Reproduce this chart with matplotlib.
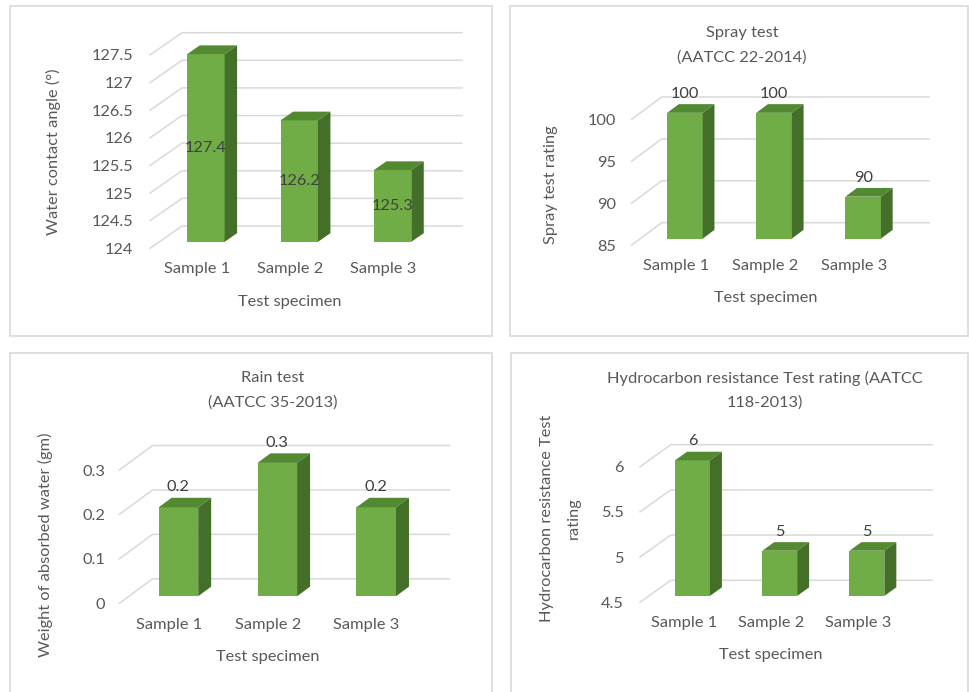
import matplotlib

matplotlib.use("Agg", force=True)
import matplotlib.pyplot as plt
from matplotlib.patches import Polygon, Rectangle

plt.rcParams["font.family"] = ["Lato", "DejaVu Sans"]

W, H = 969, 692

samples = ["Sample 1", "Sample 2", "Sample 3"]
contact_angle = [127.4, 126.2, 125.3]
spray_rating = [100, 100, 90]
rain_weight = [0.2, 0.3, 0.2]
hydrocarbon_rating = [6, 5, 5]

contact_ticks = [124, 124.5, 125, 125.5, 126, 126.5, 127, 127.5]
spray_ticks = [85, 90, 95, 100]
rain_ticks = [0, 0.1, 0.2, 0.3]
hydrocarbon_ticks = [4.5, 5, 5.5, 6]

FRONT = "#70AD47"
TOP = "#538A31"
SIDE = "#446F29"
GRID = "#D9D9D9"
TEXT = "#595959"
VALUE = "#404040"
FS = 11.8

fig = plt.figure(figsize=(W / 100, H / 100), dpi=100)


def fx(x):
    return x / W


def fy(y):
    return 1 - y / H


def lines(text, x, y, step, rotation=0):
    # stack lines by hand so the spacing is fixed in pixels
    parts = text.split("\n")
    n = len(parts)
    for k, part in enumerate(parts):
        off = (k - (n - 1) / 2) * step
        px, py = (x + off, y) if rotation else (x, y + off)
        fig.text(fx(px), fy(py), part, ha="center", va="center",
                 rotation=rotation, fontsize=FS, color=TEXT)


def panel(box, plane, depth, values, ticks, tick_pad, cat_pad, xlabel_xy,
          ylabel, ylabel_xy, title=None, title_xy=None, inside=False):
    # light frame around each chart
    bx0, by0, bx1, by1 = box
    fig.add_artist(Rectangle((fx(bx0), fy(by1)), fx(bx1 - bx0), (by1 - by0) / H,
                             transform=fig.transFigure, fill=False,
                             edgecolor=GRID, lw=1.2))

    x0, x1, ybot, ytop = plane
    ymin, ymax = ticks[0], ticks[-1]
    ax = fig.add_axes([fx(x0), fy(ybot), (x1 - x0) / W, (ybot - ytop) / H])
    ax.set_facecolor("none")
    ax.set_xlim(0, 3)
    ax.set_ylim(ymin, ymax)
    for s in ax.spines.values():
        s.set_visible(False)

    # depth offset in data units
    DX, DY = depth
    dxd = DX / ((x1 - x0) / 3)
    dyd = DY / ((ybot - ytop) / (ymax - ymin))

    for t in ticks:
        ax.plot([0, dxd, 3 + dxd], [t, t + dyd, t + dyd], color=GRID,
                lw=1.1, clip_on=False, zorder=1)

    ax.set_yticks(ticks)
    ax.set_yticklabels([f"{t:g}" for t in ticks])
    ax.set_xticks([0.5, 1.5, 2.5])
    ax.set_xticklabels(samples)
    ax.tick_params(axis="y", length=0, pad=tick_pad, labelsize=FS, labelcolor=TEXT)
    ax.tick_params(axis="x", length=0, pad=cat_pad, labelsize=FS, labelcolor=TEXT)

    f0, f1 = 0.29, 0.68
    width = 0.4
    centers = [i + 0.5 for i in range(len(values))]
    ax.bar([c + f0 * dxd for c in centers], [v - ymin for v in values],
           bottom=ymin + f0 * dyd, width=width, color=FRONT, zorder=3,
           clip_on=False)
    for c, v in zip(centers, values):
        xl = c - width / 2
        xr = c + width / 2
        top = [(xl + f0 * dxd, v + f0 * dyd), (xr + f0 * dxd, v + f0 * dyd),
               (xr + f1 * dxd, v + f1 * dyd), (xl + f1 * dxd, v + f1 * dyd)]
        side = [(xr + f0 * dxd, ymin + f0 * dyd), (xr + f0 * dxd, v + f0 * dyd),
                (xr + f1 * dxd, v + f1 * dyd), (xr + f1 * dxd, ymin + f1 * dyd)]
        ax.add_patch(Polygon(top, closed=True, facecolor=TOP, edgecolor="none",
                             zorder=3, clip_on=False))
        ax.add_patch(Polygon(side, closed=True, facecolor=SIDE, edgecolor="none",
                             zorder=3, clip_on=False))
        if inside:
            ax.text(c + f0 * dxd, (ymin + v) / 2 + f0 * dyd, f"{v:g}", ha="center",
                    va="center", fontsize=FS, color=VALUE, zorder=4)
        else:
            ax.annotate(f"{v:g}", (c + f0 * dxd, v + f1 * dyd), xytext=(0, 7.5),
                        textcoords="offset points", ha="center", va="center",
                        fontsize=FS, color=VALUE, zorder=4, annotation_clip=False)

    lines("Test specimen", xlabel_xy[0], xlabel_xy[1], 0)
    lines(ylabel, ylabel_xy[0], ylabel_xy[1], 27.3, rotation=90)
    if title:
        lines(title, title_xy[0], title_xy[1], 24)
    return ax


panel((10, 6, 491.5, 336), (150, 430, 248.3, 55), (32, 22.3), contact_angle,
      contact_ticks, 12, 10, (289.3, 302.3), "Water contact angle (\u00b0)",
      (53.3, 151.7), inside=True)

panel((509.5, 6, 968, 336), (631.7, 899, 245, 119.3), (30, 22.3), spray_rating,
      spray_ticks, 11.3, 10, (765.7, 297.7), "Spray test rating", (550.7, 185),
      "Spray test\n(AATCC 22-2014)", (742, 45.3))

panel((10, 352.5, 491.5, 720), (119.3, 416, 603.3, 470), (33.3, 24.5), rain_weight,
      rain_ticks, 10.3, 10.5, (267.7, 656.7), "Weight of absorbed water (gm)",
      (45, 545), "Rain test\n(AATCC 35-2013)", (272.7, 390.3))

panel((511, 352.5, 968, 720), (640, 901.6, 602.3, 466.7), (30.7, 22),
      hydrocarbon_rating, hydrocarbon_ticks, 11.5, 10, (770.7, 655),
      "Hydrocarbon resistance Test\nrating", (560.3, 518),
      "Hydrocarbon resistance Test rating (AATCC\n118-2013)", (765, 390.8))

fig.savefig("out.png", dpi=100)
